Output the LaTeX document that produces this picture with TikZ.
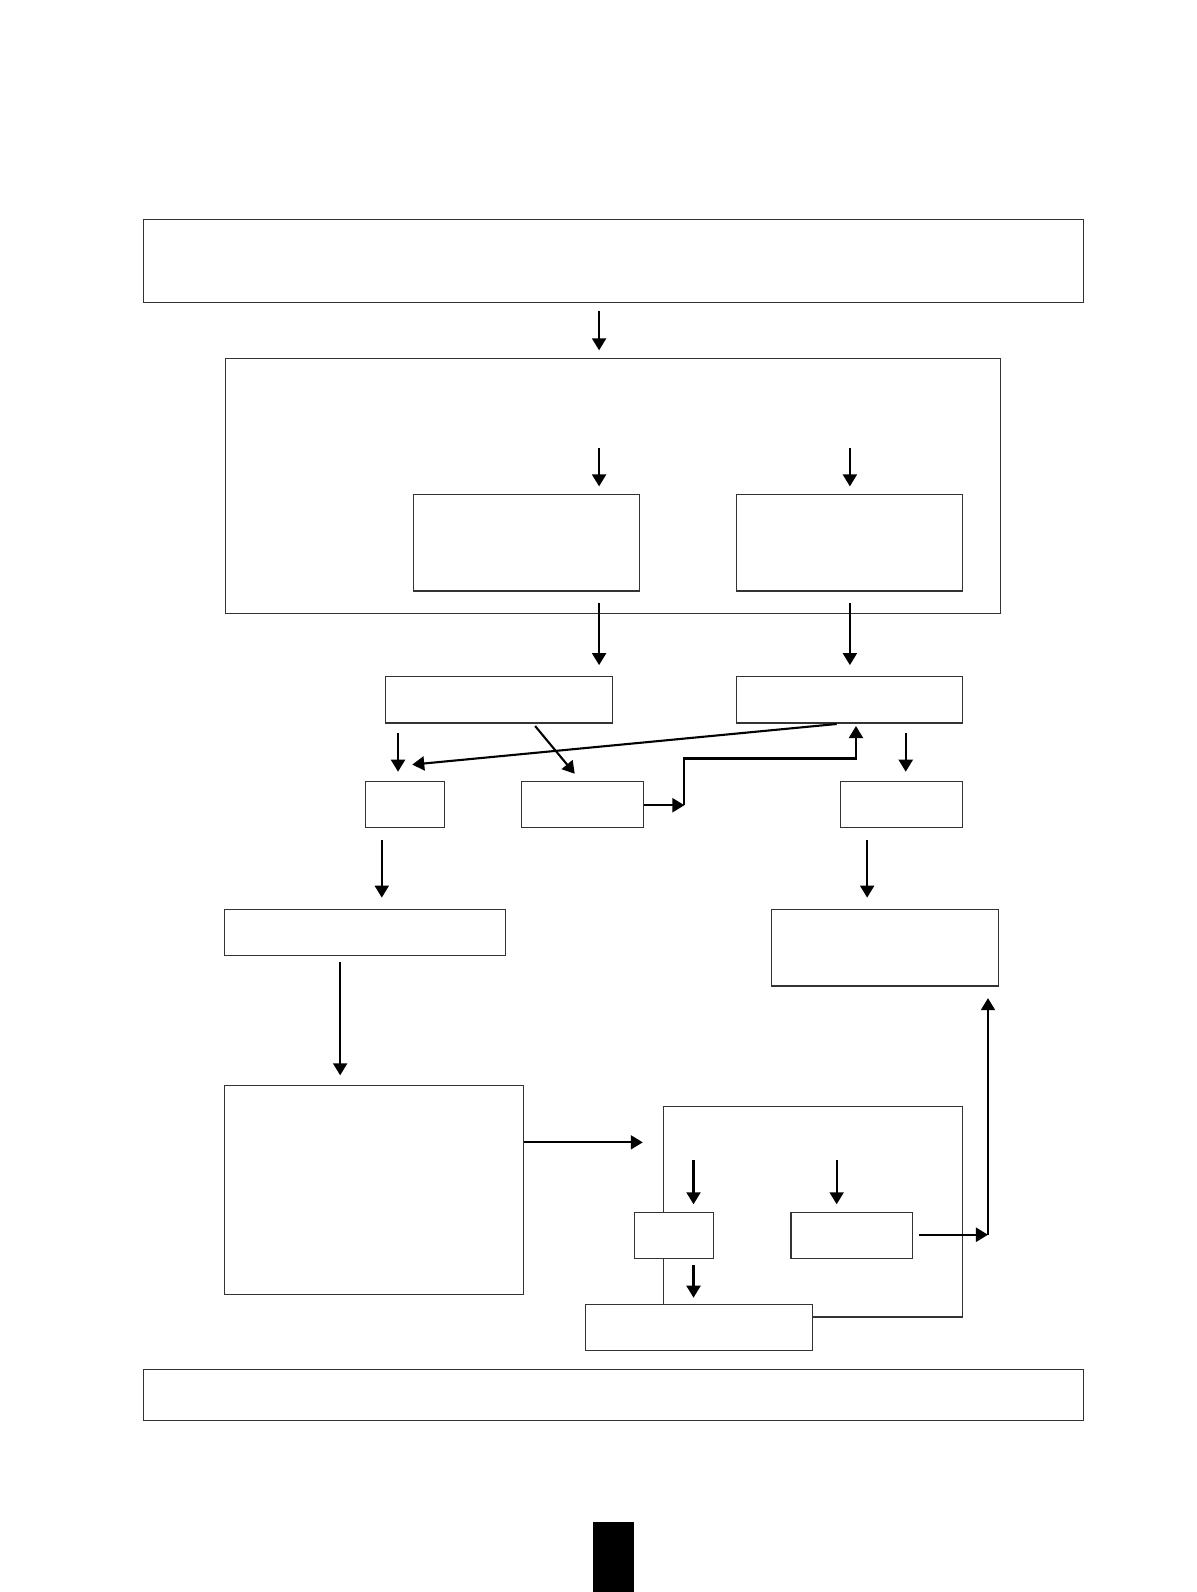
\documentclass[tikz,border=0pt]{standalone}
\usetikzlibrary{arrows.meta,fit}
\begin{document}
\begin{tikzpicture}[x=0.5pt,y=-0.5pt,
  box/.style={draw=black!80,line width=0.55pt,fill=white,inner sep=0pt,outer sep=0pt},
  arr/.style={line width=1.05pt,-{Triangle[length=6pt,width=7pt]}}]
\path[use as bounding box] (0,0) rectangle (1197,1592);
\begin{scope}[scale=1.0152]
% frame (drawn first, partly hidden)
\node[box,fit={(653,1090) (948,1297)}] (frame) {};
% boxes
\node[box,fit={(141,216) (1067,298)}] (top) {};
\node[box,fit={(222,353) (985,604)}] (big) {};
\node[box,fit={(407,487) (630,582)}] (inL) {};
\node[box,fit={(725,487) (948,582)}] (inR) {};
\node[box,fit={(380,666) (603,712)}] (midL) {};
\node[box,fit={(725,666) (948,712)}] (midR) {};
\node[box,fit={(360,770) (438,815)}] (s1) {};
\node[box,fit={(514,770) (634,815)}] (s2) {};
\node[box,fit={(828,770) (948,815)}] (s3) {};
\node[box,fit={(221,896) (498,941)}] (bL) {};
\node[box,fit={(760,896) (983,971)}] (bR) {};
\node[box,fit={(221,1069) (516,1275)}] (bigL) {};
\node[box,fit={(625,1194) (703,1239)}] (b1) {};
\node[box,fit={(779,1194) (899,1239)}] (b2) {};
\node[box,fit={(577,1285) (800,1330)}] (bC) {};
\node[box,fit={(141,1349) (1067,1399)}] (foot) {};
\node[fill=black,inner sep=0pt,outer sep=0pt,fit={(584,1499) (624,1600)}] (blk) {};
% arrow coordinates
\coordinate (a1s) at (590,306); \coordinate (a1e) at (590,345);
\coordinate (a2s) at (590,441); \coordinate (a2e) at (590,479);
\coordinate (a3s) at (837,441); \coordinate (a3e) at (837,479);
\coordinate (a4s) at (590,594); \coordinate (a4e) at (590,655);
\coordinate (a5s) at (837,594); \coordinate (a5e) at (837,655);
\coordinate (a6s) at (392,722); \coordinate (a6e) at (392,760);
\coordinate (a7s) at (527,715); \coordinate (a7e) at (566,762);
\coordinate (a8s) at (824,713); \coordinate (a8e) at (406,753);
\coordinate (a9s) at (634,793); \coordinate (a9e) at (674,793);
\coordinate (a10m) at (674,747); \coordinate (a10n) at (843,747); \coordinate (a10e) at (843,715);
\coordinate (a11s) at (892,722); \coordinate (a11e) at (892,760);
\coordinate (a12s) at (376,827); \coordinate (a12e) at (376,884);
\coordinate (a13s) at (854,827); \coordinate (a13e) at (854,884);
\coordinate (a14s) at (335,947); \coordinate (a14e) at (335,1059);
\coordinate (a15s) at (516,1125); \coordinate (a15e) at (633,1125);
\coordinate (a16s) at (683,1142); \coordinate (a16e) at (683,1186);
\coordinate (a17s) at (824,1142); \coordinate (a17e) at (824,1186);
\coordinate (a18s) at (683,1246); \coordinate (a18e) at (683,1278);
\coordinate (a19s) at (905,1216); \coordinate (a19e) at (973,1216);
\coordinate (a20e) at (973,983);
% arrows
\draw[arr] (a1s) -- (a1e);
\draw[arr] (a2s) -- (a2e);
\draw[arr] (a3s) -- (a3e);
\draw[arr] (a4s) -- (a4e);
\draw[arr] (a5s) -- (a5e);
\draw[arr] (a6s) -- (a6e);
\draw[arr] (a7s) -- (a7e);
\draw[arr] (a8s) -- (a8e);
\draw[arr] (a9s) -- (a9e);
\draw[arr] (a9e) -- (a10m) -- (a10n) -- (a10e);
\draw[arr] (a11s) -- (a11e);
\draw[arr] (a12s) -- (a12e);
\draw[arr] (a13s) -- (a13e);
\draw[arr] (a14s) -- (a14e);
\draw[arr] (a15s) -- (a15e);
\draw[arr] (a16s) -- (a16e);
\draw[arr] (a17s) -- (a17e);
\draw[arr] (a18s) -- (a18e);
\draw[arr] (a19s) -- (a19e);
\draw[arr] (a19e) -- (a20e);
\end{scope}
\end{tikzpicture}
\end{document}
